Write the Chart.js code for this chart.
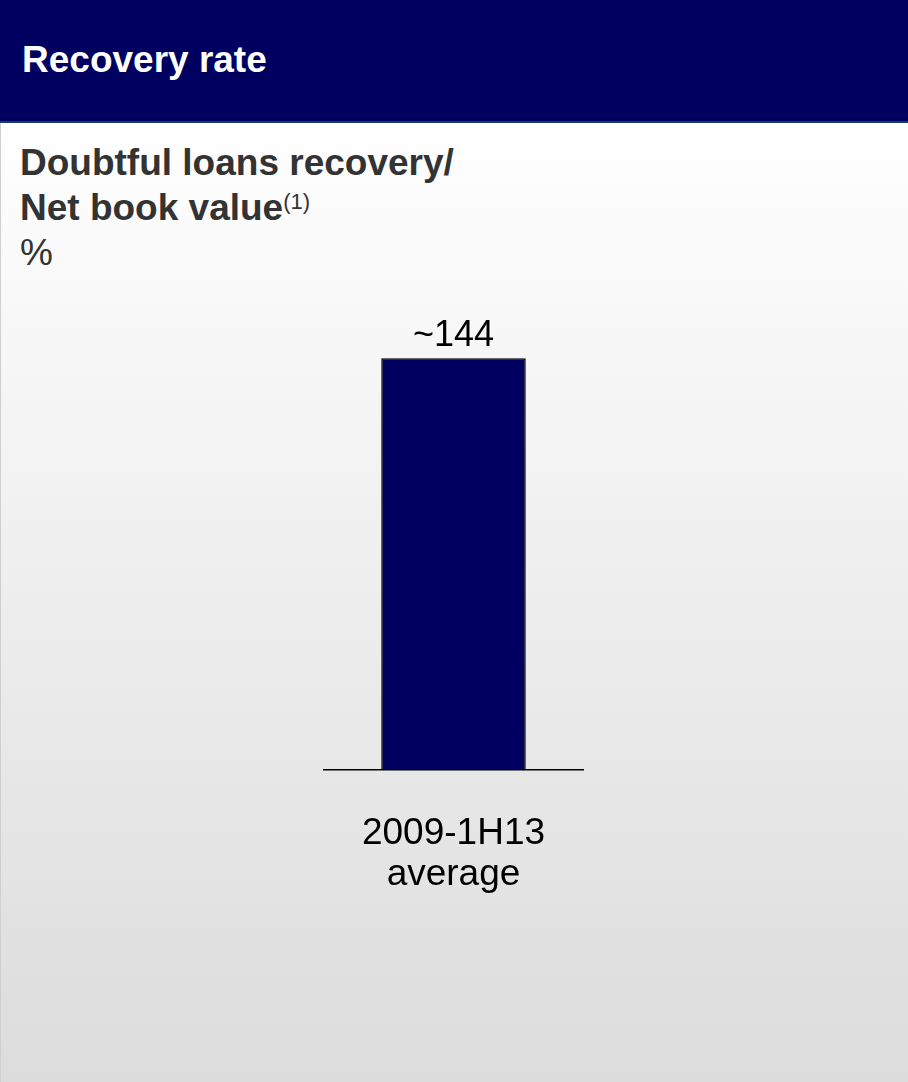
<!DOCTYPE html>
<html>
<head>
<meta charset="utf-8">
<script src="https://cdn.jsdelivr.net/npm/chart.js@4/dist/chart.umd.min.js"></script>
<style>
  html, body { margin: 0; padding: 0; }
  body {
    width: 908px; height: 1082px; overflow: hidden; position: relative;
    font-family: "Liberation Sans", Arial, sans-serif;
    background: linear-gradient(to bottom, #ffffff 0px, #ffffff 123px, #dcdcdc 1082px);
  }
  .header {
    position: absolute; left: 0; top: 0; width: 908px; height: 121px;
    background: #000060; border-bottom: 2px solid #1b3b6c;
  }
  .header .title {
    position: absolute; left: 22px; top: 41px;
    font-size: 37px; font-weight: bold; line-height: 37px; color: #ffffff;
    white-space: nowrap;
  }
  .edge {
    position: absolute; left: 0; top: 123px; width: 1px; height: 959px; background: #cfcfcf;
  }
  .subtitle {
    position: absolute; left: 20px; top: 140px;
    font-size: 37px; line-height: 45px; color: #333333; white-space: nowrap;
  }
  .subtitle b { font-weight: bold; }
  .subtitle sup { font-size: 22px; font-weight: normal; vertical-align: 11px; line-height: 0; }
  #chartBox { position: absolute; left: 304px; top: 284px; width: 299px; height: 655px; }
</style>
</head>
<body>
<div class="header"><div class="title">Recovery rate</div></div>
<div class="edge"></div>
<div class="subtitle"><b>Doubtful loans recovery/</b><br><b>Net book value</b><sup>(1)</sup><br>%</div>
<div id="chartBox"><canvas id="chart"></canvas></div>
<script>
// Category label (two lines) and the single averaged value
const categories = [["2009-1H13", "average"]];
const recoveryRate = [144];
const valuePrefix = "~";

// Writes the value above each bar
const barValueLabels = {
  id: 'barValueLabels',
  afterDatasetsDraw(chart) {
    const ctx = chart.ctx;
    const meta = chart.getDatasetMeta(0);
    ctx.save();
    ctx.font = '36px "Liberation Sans", Arial, sans-serif';
    ctx.fillStyle = '#000000';
    ctx.textAlign = 'center';
    ctx.textBaseline = 'alphabetic';
    meta.data.forEach((bar, i) => {
      ctx.fillText(valuePrefix + recoveryRate[i], bar.x, bar.y - 12);
    });
    ctx.restore();
  }
};

new Chart(document.getElementById('chart'), {
  type: 'bar',
  data: {
    labels: categories,
    datasets: [{
      data: recoveryRate,
      backgroundColor: '#000060',
      borderColor: '#000000',
      borderWidth: 1.5,
      categoryPercentage: 1,
      barPercentage: 0.558
    }]
  },
  options: {
    responsive: true,
    maintainAspectRatio: false,
    animation: false,
    layout: { padding: { left: 20, right: 20, top: 0, bottom: 0 } },
    plugins: { legend: { display: false }, tooltip: { enabled: false } },
    scales: {
      x: {
        grid: { display: false, drawTicks: false },
        border: { display: true, color: '#000000', width: 1.5 },
        ticks: {
          padding: 44,
          color: '#000000',
          font: { family: '"Liberation Sans", Arial, sans-serif', size: 37, lineHeight: 1.1 }
        }
      },
      y: {
        display: false,
        min: 0,
        max: 170
      }
    }
  },
  plugins: [barValueLabels]
});
</script>
</body>
</html>
